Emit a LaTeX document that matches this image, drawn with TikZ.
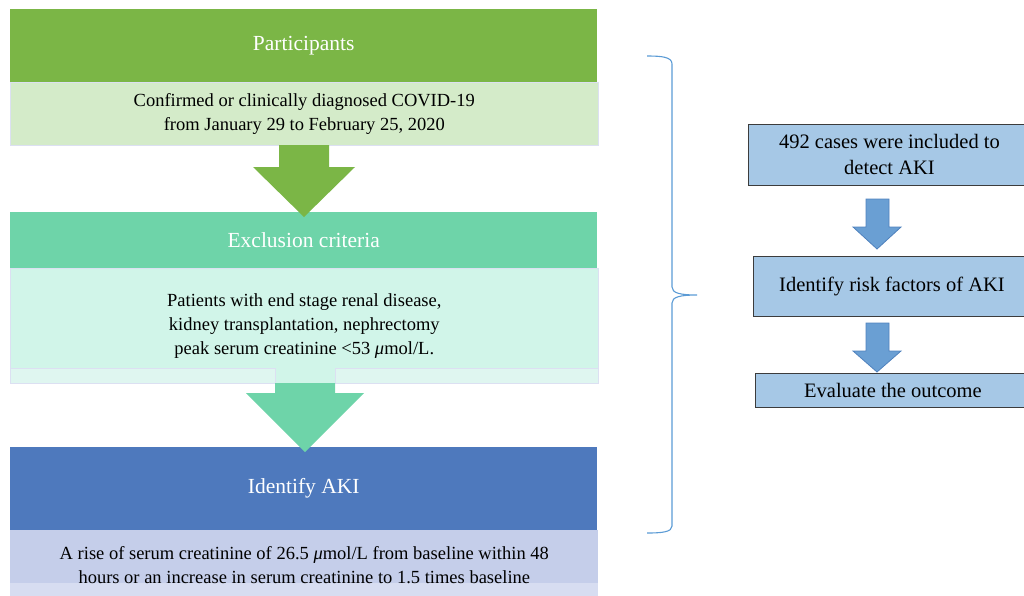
\documentclass[tikz,border=0pt]{standalone}
\usepackage{fontspec}
\setmainfont{Liberation Serif}
\usetikzlibrary{positioning}

\definecolor{partgreen}{HTML}{7BB646}
\definecolor{partlight}{HTML}{D4EBC9}
\definecolor{excmint}{HTML}{6ED4A9}
\definecolor{exclight}{HTML}{D1F5E9}
\definecolor{excstrip}{HTML}{DFF6F0}
\definecolor{akiblue}{HTML}{4E79BD}
\definecolor{akilav}{HTML}{C5CEEA}
\definecolor{akistrip}{HTML}{D7DDF1}
\definecolor{edgelav}{HTML}{DCE0F2}
\definecolor{stepblue}{HTML}{A6C8E6}
\definecolor{stepedge}{HTML}{3C3C3C}
\definecolor{arrowblue}{HTML}{6A9FD3}
\definecolor{arrowedge}{HTML}{4F81BD}
\definecolor{braceblue}{HTML}{5B9BD5}

\begin{document}
\begin{tikzpicture}[x=1pt,y=-1pt,
  headbox/.style={anchor=north west, inner sep=0pt, minimum width=587pt,
                  text=white, font=\fontsize{21.5}{25}\selectfont},
  bodybox/.style={anchor=north west, inner sep=0pt, minimum width=588pt,
                  draw=edgelav, line width=0.6pt, align=center,
                  font=\fontsize{18.5}{24}\selectfont},
  stepbox/.style={anchor=north west, inner sep=0pt, draw=stepedge,
                  fill=stepblue, line width=0.9pt, align=center,
                  font=\fontsize{20.5}{26}\selectfont},
  rarrow/.style={fill=arrowblue, draw=arrowedge, line width=0.8pt},
  brace/.style={draw=braceblue, line width=1.1pt}
]
\useasboundingbox (0,0) rectangle (1024,595);

% left column
\node[headbox, fill=partgreen, minimum height=73pt] at (10,9) (phead) {Participants};
\node[bodybox, fill=partlight, minimum height=63pt] at (10,82) (pbody)
  {Confirmed or clinically diagnosed COVID-19\\from January 29 to February 25, 2020};

\node[headbox, fill=excmint, minimum height=56pt] at (10,212) (ehead) {Exclusion criteria};
\node[bodybox, fill=exclight, minimum height=115pt] at (10,268) (ebody)
  {Patients with end stage renal disease,\\kidney transplantation, nephrectomy\\
   peak serum creatinine <53 \textit{μ}mol/L.};
\filldraw[fill=excstrip, draw=edgelav, line width=0.6pt] (10,368) rectangle (275,383);
\filldraw[fill=excstrip, draw=edgelav, line width=0.6pt] (335,368) rectangle (598,383);

\node[headbox, fill=akiblue, minimum height=83pt] at (10,447) (ahead) {Identify AKI};
\fill[akistrip] (10,530) rectangle (598,600);
\fill[akilav] (10,530) rectangle (598,583);
\node[bodybox, draw=none, minimum height=70pt] at (10,530) (abody)
  {A rise of serum creatinine of 26.5 \textit{μ}mol/L from baseline within 48\\
   hours or an increase in serum creatinine to 1.5 times baseline};

% block arrows
\fill[partgreen] (279,145) -- (329,145) -- (329,167) -- (355,167) -- (304,217)
  -- (253,167) -- (279,167) -- cycle;
\fill[excmint] (275,383) -- (335,383) -- (335,393) -- (364,393) -- (305,452)
  -- (246,393) -- (275,393) -- cycle;

% brace
\draw[brace] (647,56) .. controls (662,56) and (672,57) .. (672,64) -- (672,287)
  .. controls (672,293) and (680,295) .. (697,295)
  .. controls (680,295) and (672,297) .. (672,303) -- (672,526)
  .. controls (672,532) and (662,533) .. (647,533);

% right column
\node[stepbox, minimum width=282pt, minimum height=61pt] at (748,124) (cases)
  {492 cases were included to\\detect AKI};
\node[stepbox, minimum width=277pt, minimum height=60pt] at (753,256) (risk)
  {Identify risk factors of AKI};
\node[stepbox, minimum width=275pt, minimum height=34pt] at (755,373) (outcome)
  {Evaluate the outcome};

\draw[rarrow] (866,199) -- (889,199) -- (889,227) -- (901,227) -- (877,249)
  -- (853,227) -- (866,227) -- cycle;
\draw[rarrow] (866,323) -- (889,323) -- (889,351) -- (901,351) -- (877,372)
  -- (853,351) -- (866,351) -- cycle;

\end{tikzpicture}
\end{document}
